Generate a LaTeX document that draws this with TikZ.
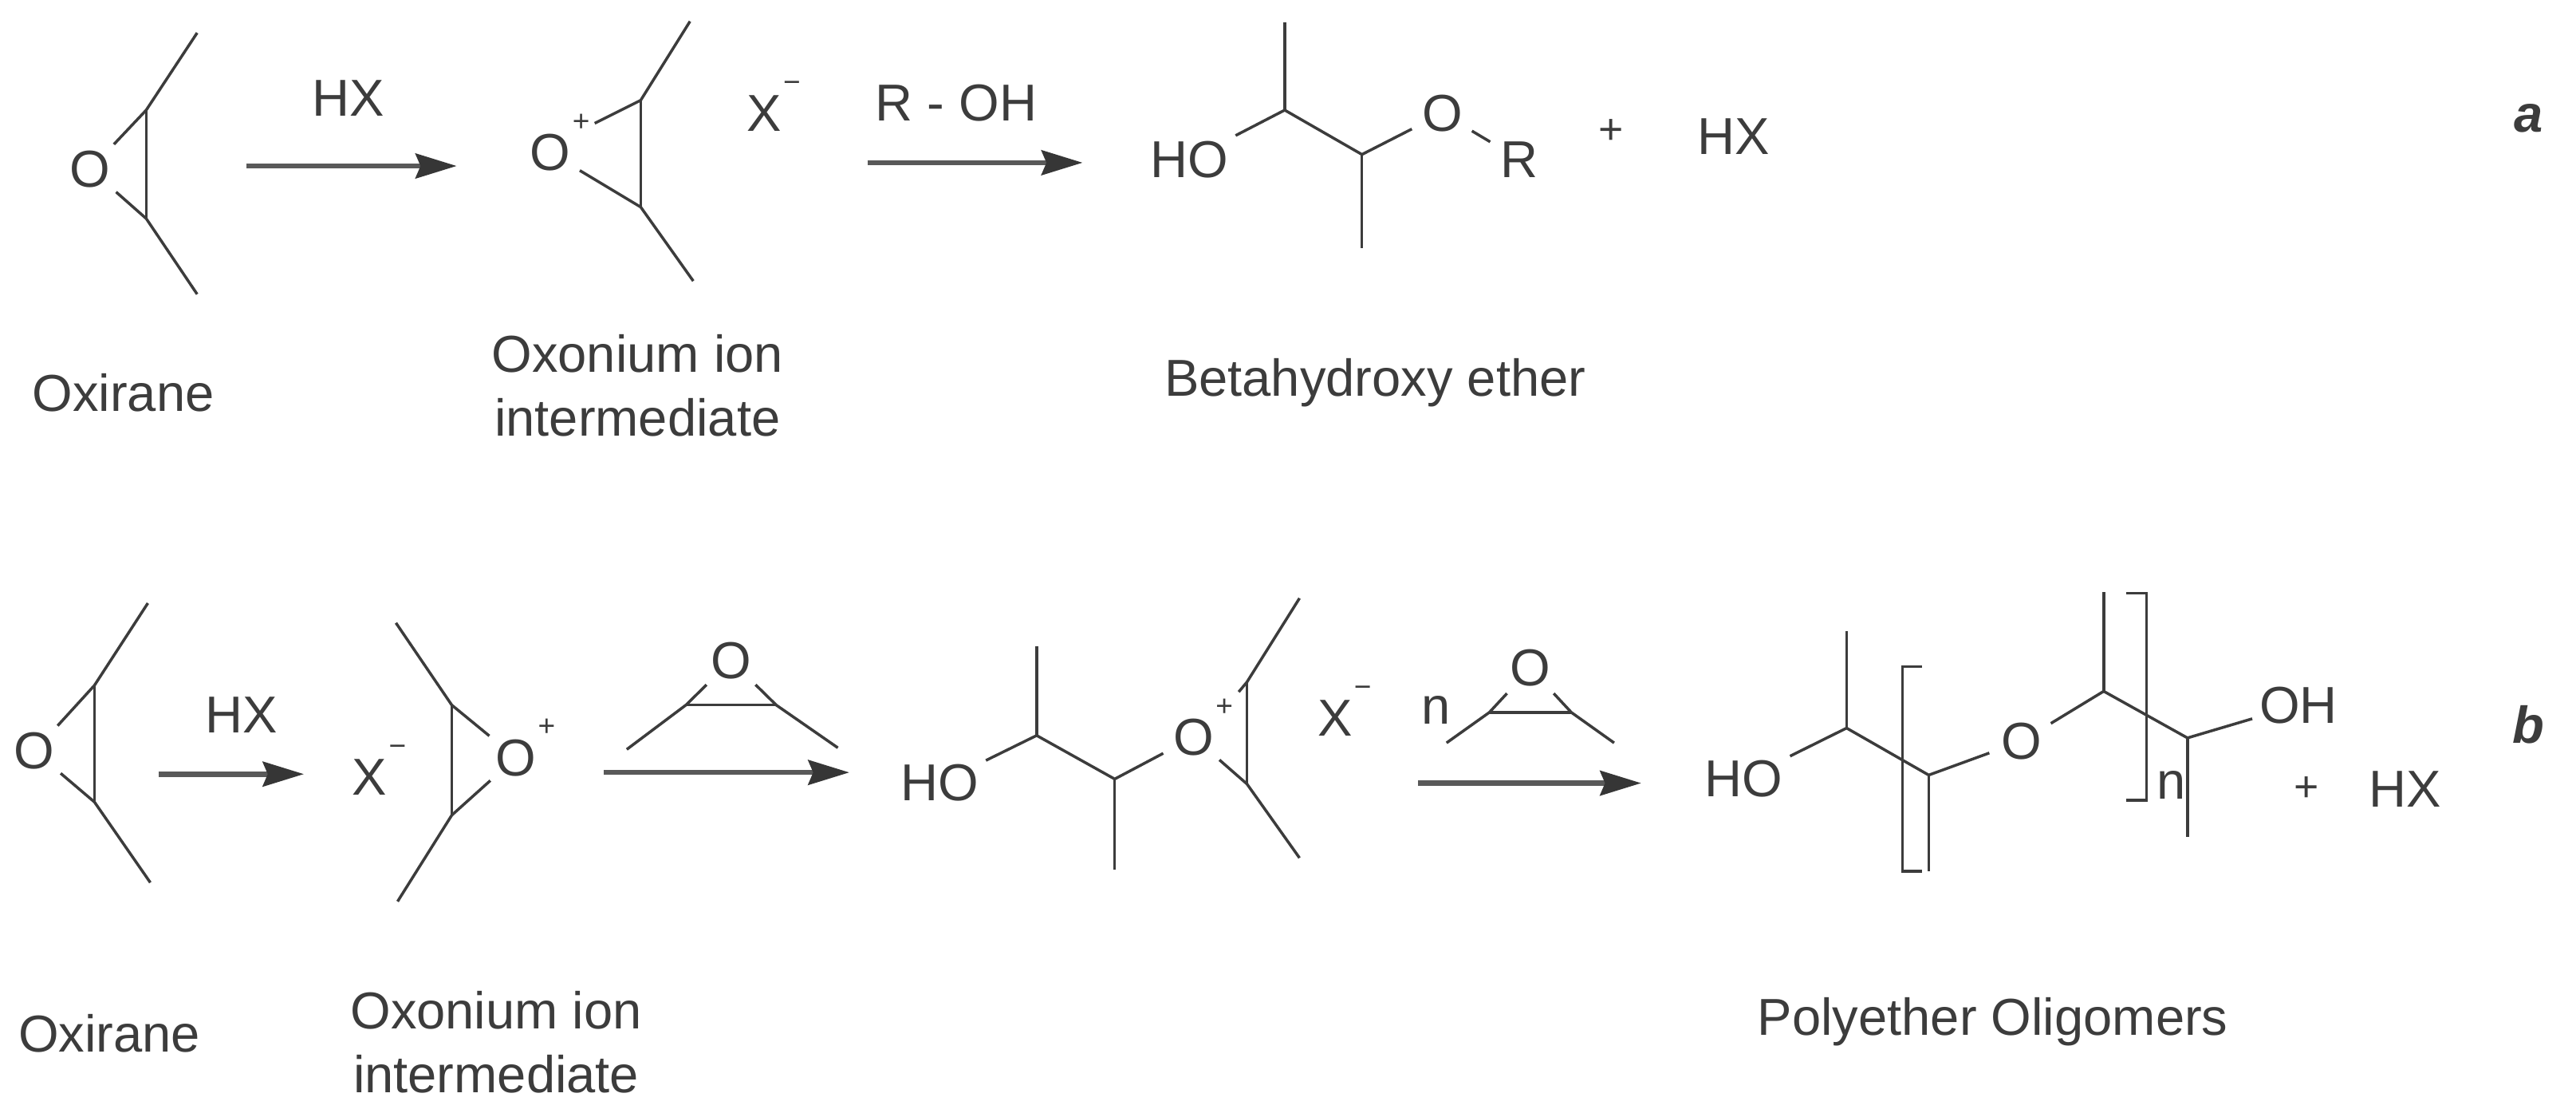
\documentclass[tikz,border=0pt]{standalone}
\usepackage{fontspec}
\setmainfont{Liberation Sans}
\usetikzlibrary{arrows.meta}
\definecolor{ink}{HTML}{3C3C3C}
\newcommand{\chemsup}[1]{\rlap{\smash{\raisebox{12pt}{\fontsize{9}{9}\selectfont\hspace{0.6pt}#1}}}}
\tikzset{
  txt/.style={font=\fontsize{15.8}{19.5}\selectfont, text=ink, inner sep=0pt},
  atom/.style={txt, circle, minimum size=20.5pt, inner sep=0pt},
  group/.style={txt, inner sep=2pt},
  tag/.style={font=\fontsize{15.8}{19.5}\selectfont\bfseries\itshape, text=ink, inner sep=0pt},
  lbl/.style={txt, align=center},
  bond/.style={draw=ink, line width=0.85pt, line join=miter},
  rxn/.style={draw=ink!85, line width=1.6pt, -{Stealth[length=12.5pt,width=7.5pt,inset=1.5pt,color=ink!90!black]}}
}
\begin{document}
\begin{tikzpicture}[x=0.5pt,y=-0.5pt]
\useasboundingbox (0,0) rectangle (1568,677.2);
% ---------- row a : oxirane
\node[atom] (aO1) at (55,103) {O};
\coordinate (aC1) at (89,67);
\coordinate (aC2) at (89,133);
\coordinate (aM1) at (120,20);
\coordinate (aM2) at (120,179);
\draw[bond] (aO1) -- (aC1) -- (aM1);
\draw[bond] (aC1) -- (aC2);
\draw[bond] (aO1) -- (aC2) -- (aM2);
\node[lbl] (aL1) at (75,239) {Oxirane};
% arrow HX
\coordinate (aA1s) at (150,101);
\coordinate (aA1e) at (278,101);
\draw[rxn] (aA1s) -- (aA1e);
\node[txt] (aHX1) at (212,60) {HX};
% oxonium
\node[atom] (aO2) at (335,93) {O\chemsup{+}};
\coordinate (aC3) at (390,61);
\coordinate (aC4) at (390,126);
\coordinate (aM3) at (420,13);
\coordinate (aM4) at (422,171);
\coordinate (aO2b) at (362,75);
\draw[bond] (aO2b) -- (aC3) -- (aM3);
\draw[bond] (aC3) -- (aC4);
\draw[bond] (aO2) -- (aC4) -- (aM4);
\node[txt] (aX) at (465,69) {X\chemsup{−}};
\node[lbl] (aL2) at (388,234.5) {Oxonium ion\\intermediate};
% arrow R-OH
\coordinate (aA2s) at (528,99);
\coordinate (aA2e) at (659,99);
\draw[rxn] (aA2s) -- (aA2e);
\node[txt] (aROH) at (582,62.5) {R - OH};
% ether
\node[group] (aHO) at (724,97) {HO};
\coordinate (aC5) at (782,67);
\coordinate (aC6) at (829,94);
\coordinate (aM5) at (782,13.5);
\coordinate (aM6) at (829,151);
\node[atom] (aO3) at (878,69) {O};
\node[atom] (aR) at (925,97) {R};
\draw[bond] (aHO) -- (aC5) -- (aC6) -- (aO3) -- (aR);
\draw[bond] (aC5) -- (aM5);
\draw[bond] (aC6) -- (aM6);
\node[txt, font=\fontsize{13}{13}\selectfont] (aPlus) at (980.5,80) {+};
\node[txt] (aHX2) at (1055,83) {HX};
\node[tag] (aTag) at (1539,72) {a};
\node[lbl] (aL3) at (837,233) {Betahydroxy ether};
% ---------- row b : oxirane
\node[atom] (bO1) at (21,457) {O};
\coordinate (bC1) at (57.5,417);
\coordinate (bC2) at (57.5,488);
\coordinate (bM1) at (90,367);
\coordinate (bM2) at (91.5,537);
\draw[bond] (bO1) -- (bC1) -- (bM1);
\draw[bond] (bC1) -- (bC2);
\draw[bond] (bO1) -- (bC2) -- (bM2);
\node[lbl] (bL1) at (66.5,629) {Oxirane};
\coordinate (bA1s) at (96.5,471);
\coordinate (bA1e) at (185,471);
\draw[rxn] (bA1s) -- (bA1e);
\node[txt] (bHX1) at (147,435) {HX};
% oxonium
\node[txt] (bX1) at (225,473) {X\chemsup{−}};
\node[atom] (bO2) at (314,461) {O\chemsup{+}};
\coordinate (bC3) at (275,429);
\coordinate (bC4) at (275,496);
\coordinate (bM3) at (241,379);
\coordinate (bM4) at (242,548.5);
\draw[bond] (bO2) -- (bC3) -- (bM3);
\draw[bond] (bC3) -- (bC4);
\draw[bond] (bO2) -- (bC4) -- (bM4);
\node[lbl] (bL2) at (302,634) {Oxonium ion\\intermediate};
% epoxide over arrow
\node[atom] (bO3) at (445,402) {O};
\coordinate (bC5) at (417.5,429);
\coordinate (bC6) at (472.5,429);
\coordinate (bM5) at (381.5,456);
\coordinate (bM6) at (510,455);
\draw[bond] (bO3) -- (bC5) -- (bM5);
\draw[bond] (bC5) -- (bC6);
\draw[bond] (bO3) -- (bC6) -- (bM6);
\coordinate (bA2s) at (367.5,470);
\coordinate (bA2e) at (517,470);
\draw[rxn] (bA2s) -- (bA2e);
% dimer oxonium
\node[group] (bHO1) at (572,476.5) {HO};
\coordinate (bC7) at (631,447.5);
\coordinate (bC8) at (678.5,474);
\coordinate (bM7) at (631,393);
\coordinate (bM8) at (678.5,529);
\node[atom] (bO4) at (726.5,448.6) {O\chemsup{+}};
\coordinate (bC9) at (759,415);
\coordinate (bC10) at (759,477);
\coordinate (bM9) at (791,364);
\coordinate (bM10) at (791,522);
\coordinate (bO4b) at (754,421);
\draw[bond] (bHO1) -- (bC7) -- (bC8) -- (bO4) -- (bC10) -- (bM10);
\draw[bond] (bC7) -- (bM7);
\draw[bond] (bC8) -- (bM8);
\draw[bond] (bO4b) -- (bC9) -- (bM9);
\draw[bond] (bC9) -- (bC10);
\node[txt] (bX2) at (812.5,437) {X\chemsup{−}};
% n epoxide
\node[txt] (bN1) at (874,432) {n};
\node[atom] (bO5) at (931.5,406.6) {O};
\coordinate (bC11) at (906.5,433.5);
\coordinate (bC12) at (956.5,433.5);
\coordinate (bM11) at (880.5,452);
\coordinate (bM12) at (982.5,452);
\draw[bond] (bO5) -- (bC11) -- (bM11);
\draw[bond] (bC11) -- (bC12);
\draw[bond] (bO5) -- (bC12) -- (bM12);
\coordinate (bA3s) at (863,476.5);
\coordinate (bA3e) at (999,476.5);
\draw[rxn] (bA3s) -- (bA3e);
% polyether
\node[group] (bHO2) at (1061.5,474) {HO};
\coordinate (bC13) at (1124,443);
\coordinate (bC14) at (1174,471.6);
\coordinate (bM13) at (1124,384);
\coordinate (bM14) at (1174,530);
\node[atom] (bO6) at (1230.5,451) {O};
\coordinate (bC15) at (1280.5,420.6);
\coordinate (bC16) at (1331.5,449);
\coordinate (bM15) at (1280.5,360);
\coordinate (bM16) at (1331.5,509);
\node[group] (bOH) at (1399,429) {OH};
\draw[bond] (bHO2) -- (bC13) -- (bC14) -- (bO6) -- (bC15) -- (bC16) -- (bOH);
\draw[bond] (bC13) -- (bM13);
\draw[bond] (bC14) -- (bM14);
\draw[bond] (bC15) -- (bM15);
\draw[bond] (bC16) -- (bM16);
% brackets
\coordinate (brL1) at (1170,405.6);
\coordinate (brL2) at (1158,405.6);
\coordinate (brL3) at (1158,530);
\coordinate (brL4) at (1170,530);
\draw[bond] (brL1) -- (brL2) -- (brL3) -- (brL4);
\coordinate (brR1) at (1294,361);
\coordinate (brR2) at (1306.5,361);
\coordinate (brR3) at (1306.5,487);
\coordinate (brR4) at (1294,487);
\draw[bond] (brR1) -- (brR2) -- (brR3) -- (brR4);
\node[txt] (bN2) at (1321.5,477.6) {n};
\node[txt, font=\fontsize{13}{13}\selectfont] (bPlus) at (1404,480) {+};
\node[txt] (bHX2) at (1464,480) {HX};
\node[tag] (bTag) at (1539,441) {b};
\node[lbl] (bL3) at (1213,621.6) {Polyether Oligomers};
\end{tikzpicture}
\end{document}
